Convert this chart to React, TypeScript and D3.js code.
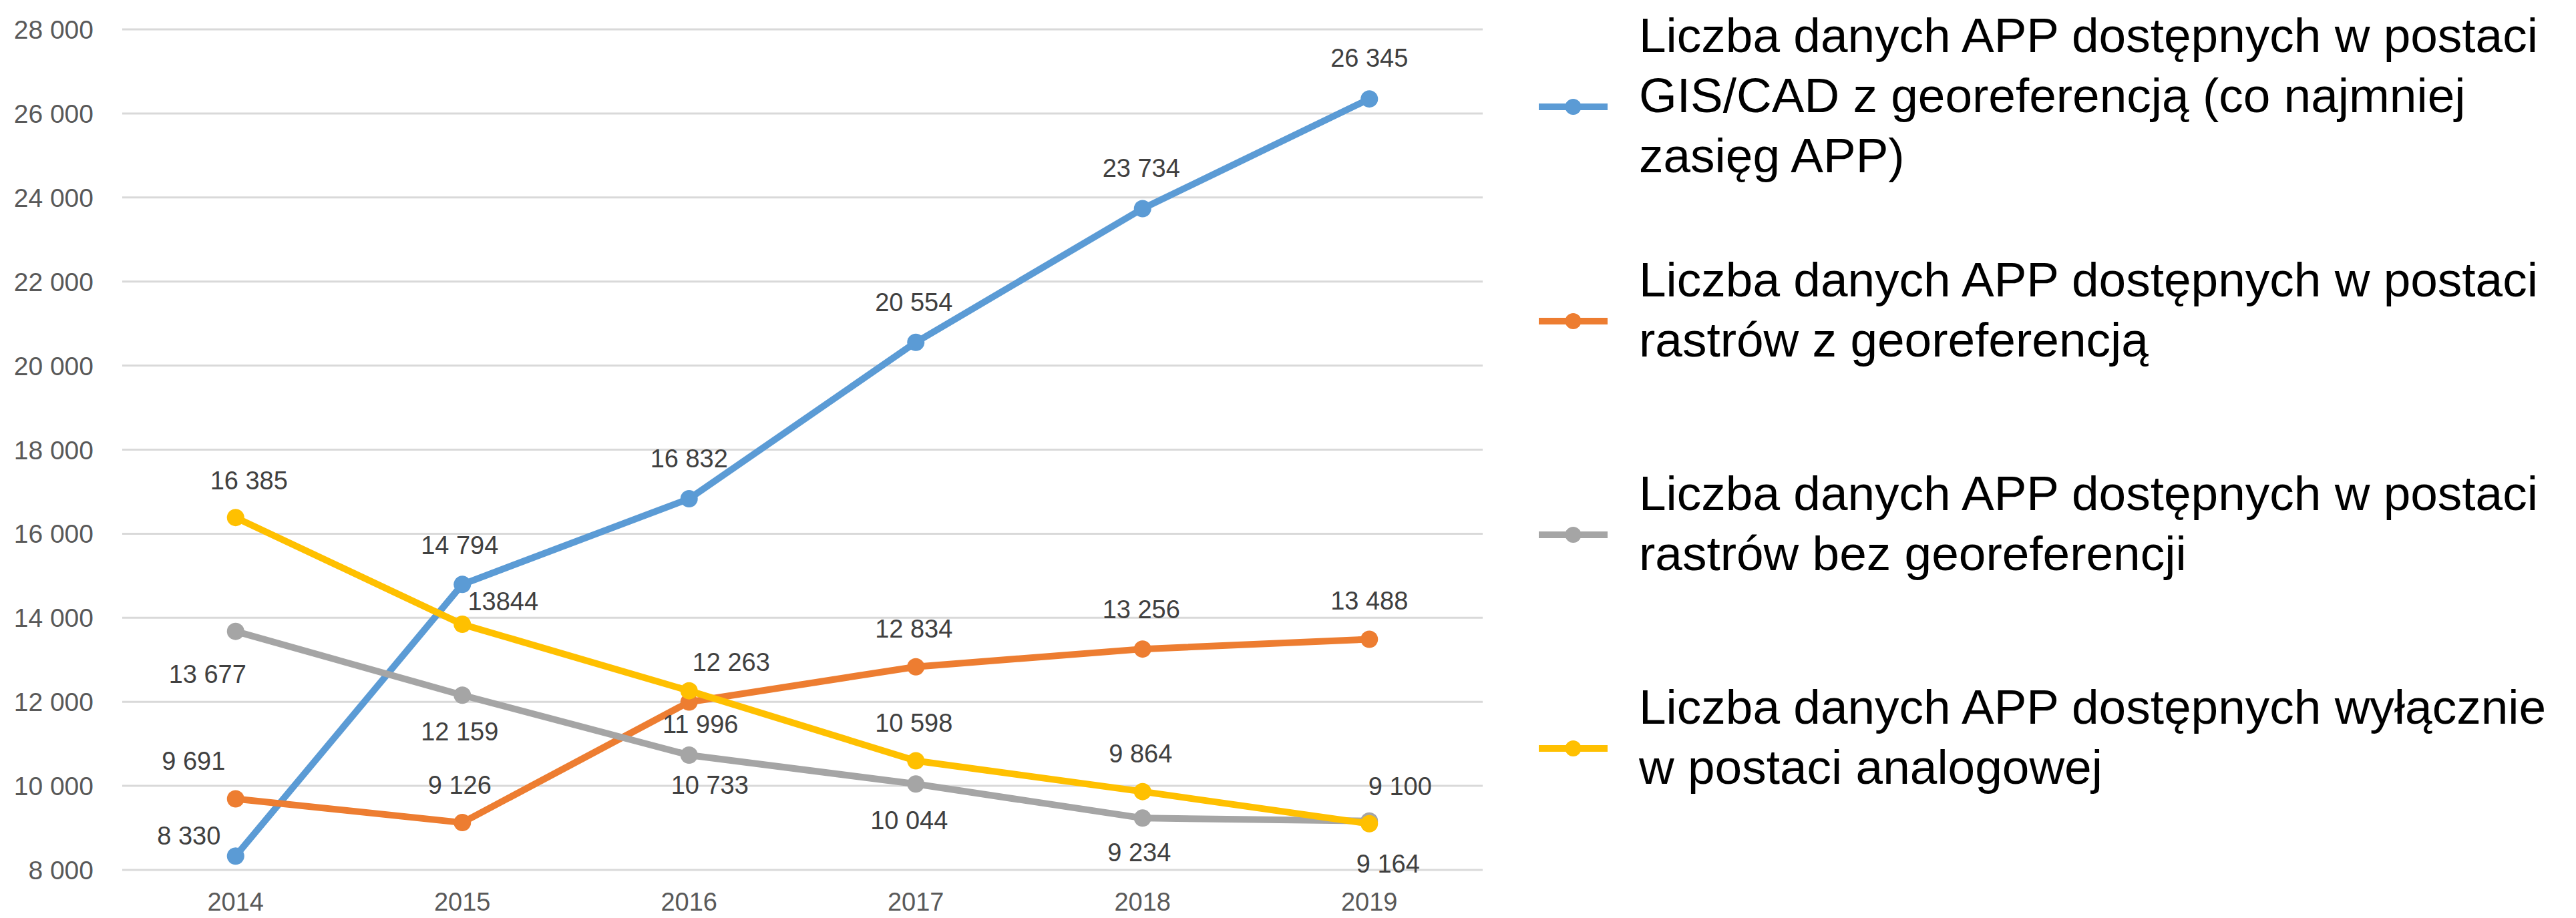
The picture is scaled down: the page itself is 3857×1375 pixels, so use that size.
import React from 'react';
import * as d3 from 'd3';

const years = ['2014', '2015', '2016', '2017', '2018', '2019'];

// values
const gisCad = [8330, 14794, 16832, 20554, 23734, 26345];
const rasterGeo = [9691, 9126, 11996, 12834, 13256, 13488];
const rasterNoGeo = [13677, 12159, 10733, 10044, 9234, 9164];
const analogOnly = [16385, 13844, 12263, 10598, 9864, 9100];

const yTicks = [8000, 10000, 12000, 14000, 16000, 18000, 20000, 22000, 24000, 26000, 28000];

const legendGis = ['Liczba danych APP dostępnych w postaci', 'GIS/CAD z georeferencją (co najmniej', 'zasięg APP)'];
const legendRasterGeo = ['Liczba danych APP dostępnych w postaci', 'rastrów z georeferencją'];
const legendRasterNoGeo = ['Liczba danych APP dostępnych w postaci', 'rastrów bez georeferencji'];
const legendAnalog = ['Liczba danych APP dostępnych wyłącznie', 'w postaci analogowej'];

// the one label typed without a thousands gap in the original
const labelOverrides: Record<string, string> = { '3-1': '13844' };

type Series = {
  key: string;
  values: number[];
  color: string;
  legend: string[];
  nudge: [number, number][]; // label offset from point, px
};

const series: Series[] = [
  {
    key: 'gis',
    values: gisCad,
    color: '#5B9BD5',
    legend: legendGis,
    nudge: [[-70, -31], [-4, -59], [0, -61], [-3, -60], [-2, -61], [0, -62]],
  },
  {
    key: 'rgeo',
    values: rasterGeo,
    color: '#ED7D31',
    legend: legendRasterGeo,
    nudge: [[-63, -57], [-4, -57], [17, 33], [-3, -57], [-2, -60], [0, -58]],
  },
  {
    key: 'rnogeo',
    values: rasterNoGeo,
    color: '#A5A5A5',
    legend: legendRasterNoGeo,
    nudge: [[-42, 64], [-4, 54], [31, 44], [-10, 54], [-5, 51], [28, 64]],
  },
  {
    key: 'analog',
    values: analogOnly,
    color: '#FFC000',
    legend: legendAnalog,
    nudge: [[20, -56], [61, -35], [63, -43], [-3, -57], [-3, -57], [46, -56]],
  },
];

const W = 3857;
const H = 1375;
const plot = { left: 183, right: 2220, top: 44, bottom: 1303 };
const legendX = { lineFrom: 2304, lineTo: 2407, text: 2454 };
const legendBaselines = [78, 444, 764, 1084];
const legendLineGap = 90;

const fmt = d3
  .formatLocale({ decimal: ',', thousands: '\u00a0', grouping: [3], currency: ['', ''] })
  .format(',d');

const App: React.FC = () => {
  const x = d3.scalePoint<string>().domain(years).range([plot.left, plot.right]).padding(0.5);
  const y = d3.scaleLinear().domain([8000, 28000]).range([plot.bottom, plot.top]);

  const line = d3
    .line<number>()
    .x((_, i) => x(years[i]) || 0)
    .y((d) => y(d));

  const numFont = '"Liberation Sans", Arial, sans-serif';

  return (
    <svg
      width={W}
      height={H}
      viewBox={`0 0 ${W} ${H}`}
      style={{ position: 'absolute', left: 0, top: 0, background: '#fff' }}
    >
      <rect width={W} height={H} fill="#fff" />

      {/* gridlines + y ticks */}
      <g>
        {yTicks.map((t) => (
          <g key={t}>
            <line x1={plot.left} x2={plot.right} y1={y(t)} y2={y(t)} stroke="#D9D9D9" strokeWidth={3} />
            <text
              x={140}
              y={y(t)}
              dy="0.36em"
              textAnchor="end"
              fontFamily={numFont}
              fontSize={39}
              fill="#595959"
            >
              {fmt(t)}
            </text>
          </g>
        ))}
      </g>

      {/* x labels */}
      <g>
        {years.map((yr) => (
          <text
            key={yr}
            x={x(yr)}
            y={1350}
            dy="0.36em"
            textAnchor="middle"
            fontFamily={numFont}
            fontSize={38}
            fill="#595959"
          >
            {yr}
          </text>
        ))}
      </g>

      {/* lines and markers */}
      {series.map((s) => (
        <g key={s.key}>
          <path d={line(s.values) || ''} fill="none" stroke={s.color} strokeWidth={10} strokeLinejoin="round" />
          {s.values.map((v, i) => (
            <circle key={i} cx={x(years[i])} cy={y(v)} r={13} fill={s.color} />
          ))}
        </g>
      ))}

      {/* data labels */}
      {series.map((s, si) => (
        <g key={s.key + '-lbl'}>
          {s.values.map((v, i) => (
            <text
              key={i}
              x={(x(years[i]) || 0) + s.nudge[i][0]}
              y={y(v) + s.nudge[i][1]}
              dy="0.36em"
              textAnchor="middle"
              fontFamily={numFont}
              fontSize={38}
              fill="#404040"
            >
              {labelOverrides[`${si}-${i}`] ?? fmt(v)}
            </text>
          ))}
        </g>
      ))}

      {/* legend */}
      {series.map((s, si) => {
        const base = legendBaselines[si];
        const my = base + ((s.legend.length - 1) * legendLineGap) / 2 - 8;
        return (
          <g key={s.key + '-leg'}>
            <line x1={legendX.lineFrom} x2={legendX.lineTo} y1={my} y2={my} stroke={s.color} strokeWidth={10} />
            <circle cx={(legendX.lineFrom + legendX.lineTo) / 2} cy={my} r={12} fill={s.color} />
            <text fontFamily='"Liberation Sans", Arial, sans-serif' fontSize={73} fill="#000">
              {s.legend.map((ln, li) => (
                <tspan key={li} x={legendX.text} y={base + li * legendLineGap}>
                  {ln}
                </tspan>
              ))}
            </text>
          </g>
        );
      })}
    </svg>
  );
};

export default App;
